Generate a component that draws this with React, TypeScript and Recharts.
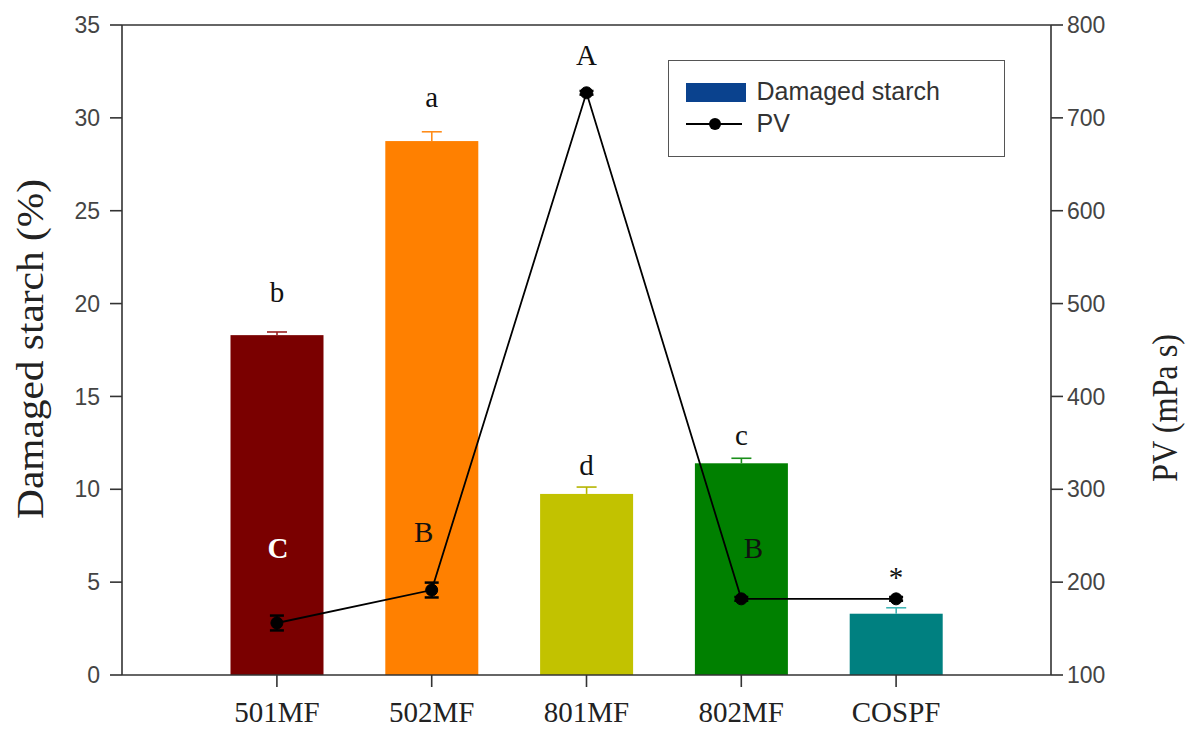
import React from 'react';
import {
  ComposedChart,
  Bar,
  Line,
  XAxis,
  YAxis,
  ErrorBar,
  LabelList,
  Cell,
  Legend,
  ReferenceLine,
  Label,
} from 'recharts';

// ---------- data ----------
const categories = ['501MF', '502MF', '801MF', '802MF', 'COSPF'];
const damagedStarch = [18.3, 28.75, 9.75, 11.4, 3.3];
const damagedStarchErr = [0.17, 0.5, 0.37, 0.27, 0.32];
const pvValues = [156, 191.5, 727, 182, 182];
const pvErr = [8, 8, 2, 2, 2];
const starchLetters = ['b', 'a', 'd', 'c', ''];
const pvLetters = ['C', 'B', 'A', 'B', '*'];
const leftTicks = [0, 5, 10, 15, 20, 25, 30, 35];
const rightTicks = [100, 200, 300, 400, 500, 600, 700, 800];

// ---------- styles ----------
const barColors = ['#7a0000', '#ff8000', '#c2c200', '#008000', '#008080'];
const errColors = ['#9a2020', '#ff8c1a', '#b5b500', '#1a8f1a', '#3fb4b4'];
const starchLabelDy = [-33, -34, -19, -18, 0];
const pvLabelStyle = [
  { dx: 1, dy: -65, fill: '#ffffff', weight: 'bold' },
  { dx: -8, dy: -48, fill: '#111111', weight: 'normal' },
  { dx: 0, dy: -28, fill: '#111111', weight: 'normal' },
  { dx: 12, dy: -41, fill: '#111111', weight: 'normal' },
  { dx: 0, dy: -12, fill: '#111111', weight: 'normal' },
];

const data = categories.map((name, i) => ({
  name,
  ds: damagedStarch[i],
  dsErr: damagedStarchErr[i],
  pv: pvValues[i],
  pvErr: pvErr[i],
}));

const serif = '"Liberation Serif", "Times New Roman", serif';
const sans = '"Liberation Sans", Arial, sans-serif';
const axisColor = '#333333';

const BarWithError = (props: any) => {
  const { x, y, width, height, index, payload } = props;
  const pxPerUnit = payload.ds ? height / payload.ds : 0;
  const errPx = payload.dsErr * pxPerUnit;
  const cx = x + width / 2;
  return (
    <g>
      <rect x={x} y={y} width={width} height={height} fill={barColors[index]} />
      <line x1={cx} y1={y} x2={cx} y2={y - errPx} stroke={errColors[index]} strokeWidth={1.6} />
      <line x1={cx - 10} y1={y - errPx} x2={cx + 10} y2={y - errPx} stroke={errColors[index]} strokeWidth={1.6} />
    </g>
  );
};

const StarchLetter = (props: any) => {
  const { x, y, width, index } = props;
  const t = starchLetters[index];
  if (!t) return null;
  return (
    <text x={x + width / 2} y={y + starchLabelDy[index]} textAnchor="middle" fontFamily={serif} fontSize={29} fill="#111">
      {t}
    </text>
  );
};

const PvLetter = (props: any) => {
  const { x, y, index } = props;
  const s = pvLabelStyle[index];
  return (
    <text
      x={x + s.dx}
      y={y + s.dy}
      textAnchor="middle"
      fontFamily={serif}
      fontSize={29}
      fontWeight={s.weight}
      fill={s.fill}
    >
      {pvLetters[index]}
    </text>
  );
};

const LeftTitle = (props: any) => {
  const vb = props.viewBox || { x: 0, y: 25, width: 122, height: 650 };
  const cx = vb.x + 30;
  const cy = vb.y + vb.height / 2 - 1;
  return (
    <text
      x={cx}
      y={cy}
      transform={`rotate(-90 ${cx} ${cy})`}
      textAnchor="middle"
      dominantBaseline="central"
      fontFamily={serif}
      fontSize={37}
      fill="#222"
      textLength={340}
      lengthAdjust="spacingAndGlyphs"
    >
      Damaged starch (%)
    </text>
  );
};

const RightTitle = (props: any) => {
  const vb = props.viewBox || { x: 1051, y: 25, width: 139, height: 650 };
  const cx = vb.x + 114;
  const cy = 408;
  return (
    <text
      x={cx}
      y={cy}
      transform={`rotate(-90 ${cx} ${cy})`}
      textAnchor="middle"
      dominantBaseline="central"
      fontFamily={serif}
      fontSize={35}
      fill="#222"
      textLength={148}
      lengthAdjust="spacingAndGlyphs"
    >
      PV (mPa s)
    </text>
  );
};

const renderLegend = () => (
  <div
    style={{
      width: 337,
      height: 97,
      border: '1.5px solid #555',
      boxSizing: 'border-box',
      position: 'relative',
      fontFamily: sans,
      fontSize: 25,
      color: '#333',
      background: '#fff',
    }}
  >
    <div style={{ position: 'absolute', left: 16.5, top: 21.5, width: 60, height: 19, background: '#0a428e' }} />
    <span style={{ position: 'absolute', left: 87.5, top: 18, lineHeight: '25px', whiteSpace: 'nowrap' }}>Damaged starch</span>
    <svg style={{ position: 'absolute', left: 16.5, top: 52.5 }} width={60} height={20}>
      <line x1={0} y1={10} x2={56} y2={10} stroke="#000" strokeWidth={2} />
      <circle cx={29} cy={10} r={6} fill="#000" />
    </svg>
    <span style={{ position: 'absolute', left: 87.5, top: 50, lineHeight: '25px' }}>PV</span>
  </div>
);

export default function App() {
  return (
    <div style={{ position: 'absolute', left: 0, top: 0, width: 1190, height: 732, background: '#fff' }}>
      <ComposedChart width={1190} height={732} data={data} margin={{ top: 25, right: 0, bottom: 0, left: 0 }}>
        <XAxis
          dataKey="name"
          xAxisId="x"
          padding={{ left: 77.5, right: 77.5 }}
          height={57}
          tickSize={12}
          tickMargin={14}
          interval={0}
          axisLine={{ stroke: axisColor, strokeWidth: 1.6 }}
          tickLine={{ stroke: axisColor, strokeWidth: 1.6 }}
          tick={{ fontFamily: serif, fontSize: 29, fill: '#222' }}
        />
        <YAxis
          yAxisId="left"
          orientation="left"
          width={122}
          domain={[0, 35]}
          ticks={leftTicks}
          interval={0}
          allowDataOverflow
          tickSize={12}
          tickMargin={10}
          axisLine={{ stroke: axisColor, strokeWidth: 1.6 }}
          tickLine={{ stroke: axisColor, strokeWidth: 1.6 }}
          tick={{ fontFamily: sans, fontSize: 23, fill: '#444' }}
          label={<Label content={LeftTitle} />}
        />
        <YAxis
          yAxisId="right"
          orientation="right"
          width={139}
          domain={[100, 800]}
          ticks={rightTicks}
          interval={0}
          allowDataOverflow
          tickSize={12}
          tickMargin={4}
          axisLine={{ stroke: axisColor, strokeWidth: 1.6 }}
          tickLine={{ stroke: axisColor, strokeWidth: 1.6 }}
          tick={{ fontFamily: sans, fontSize: 23, fill: '#444' }}
          label={<Label content={RightTitle} />}
        />
        <ReferenceLine y={35} yAxisId="left" xAxisId="x" stroke={axisColor} strokeWidth={1.6} ifOverflow="extendDomain" />
        <Legend
          layout="horizontal"
          verticalAlign="middle"
          align="center"
          content={renderLegend}
          wrapperStyle={{ position: 'absolute', left: 668, top: 60, width: 337, height: 97 }}
        />
        <Bar
          dataKey="ds"
          name="Damaged starch"
          xAxisId="x"
          yAxisId="left"
          barSize={93}
          fill="#0a428e"
          shape={BarWithError}
          isAnimationActive={false}
        >
          {data.map((d, i) => (
            <Cell key={d.name} fill={barColors[i]} />
          ))}
          <LabelList dataKey="ds" content={StarchLetter} />
        </Bar>
        <Line
          dataKey="pv"
          name="PV"
          xAxisId="x"
          yAxisId="right"
          stroke="#000"
          strokeWidth={1.8}
          dot={{ r: 6, fill: '#000', stroke: '#000', strokeWidth: 1 }}
          activeDot={false}
          isAnimationActive={false}
        >
          <ErrorBar dataKey="pvErr" width={7} stroke="#000" strokeWidth={2.5} direction="y" />
          <LabelList dataKey="pv" content={PvLetter} />
        </Line>
      </ComposedChart>
    </div>
  );
}
